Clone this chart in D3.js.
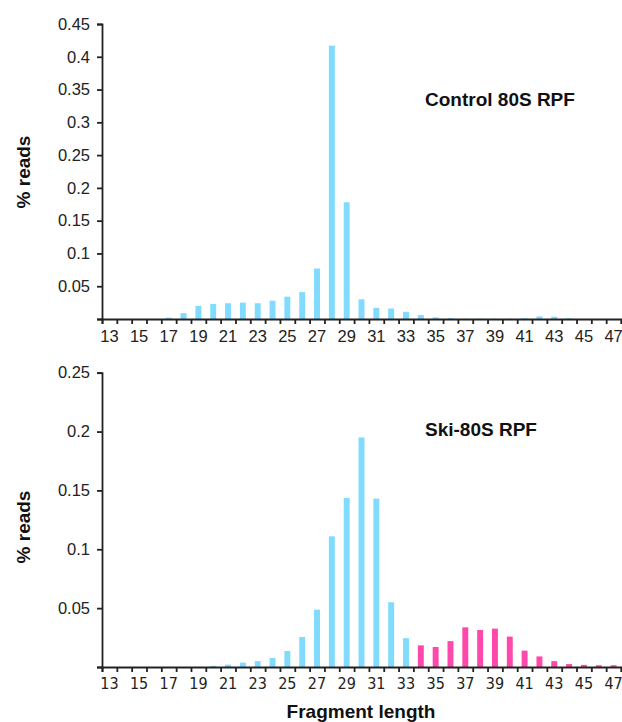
<!DOCTYPE html>
<html>
<head>
<meta charset="utf-8">
<script src="https://cdn.jsdelivr.net/npm/d3@7"></script>
<style>
  body { margin: 0; background: #fff; }
  svg { display: block; }
</style>
</head>
<body>
<div id="chart"></div>
<script>
// fragment lengths (categories)
var lengths = [13, 14, 15, 16, 17, 18, 19, 20, 21, 22, 23, 24, 25, 26, 27, 28, 29, 30,
               31, 32, 33, 34, 35, 36, 37, 38, 39, 40, 41, 42, 43, 44, 45, 46, 47];

// % reads, control 80S RPF
var control = [0, 0, 0, 0, 0.002, 0.009, 0.020, 0.023, 0.024, 0.025, 0.024, 0.028,
               0.034, 0.041, 0.077, 0.417, 0.178, 0.030, 0.017, 0.016, 0.011, 0.006,
               0.0025, 0.0012, 0.0005, 0.0005, 0.0004, 0.0004, 0.001, 0.004, 0.0035,
               0.001, 0, 0, 0];

// % reads, Ski-80S RPF
var ski = [0, 0, 0, 0, 0, 0, 0, 0.001, 0.002, 0.0037, 0.005, 0.0077, 0.0136, 0.0255,
           0.0487, 0.111, 0.1436, 0.195, 0.143, 0.055, 0.0245, 0.0184, 0.017, 0.022,
           0.0337, 0.0314, 0.0326, 0.0258, 0.0139, 0.009, 0.005, 0.0025, 0.0018,
           0.0015, 0.0015];

var labelLengths = [13, 15, 17, 19, 21, 23, 25, 27, 29, 31, 33, 35, 37, 39, 41, 43, 45, 47];
var topTicks = [0, 0.05, 0.1, 0.15, 0.2, 0.25, 0.3, 0.35, 0.4, 0.45];
var bottomTicks = [0, 0.05, 0.1, 0.15, 0.2, 0.25];
var skiLongFrom = 34;   // longer fragments drawn in pink

var blue = "#80dbff";
var pink = "#ff48ab";

var svg = d3.select("#chart").append("svg")
    .attr("width", 622)
    .attr("height", 722);

var left = 102, right = 621;

var x = d3.scaleBand()
    .domain(lengths)
    .range([left, right])
    .paddingInner(0.6)
    .paddingOuter(0.3);

// boundaries between categories for the tick marks
var xb = d3.scaleLinear()
    .domain([lengths[0] - 0.5, lengths[lengths.length - 1] + 0.5])
    .range([left, right]);

function fmt(d) {
  if (d === 0) return "";
  return String(+d.toFixed(2));
}

function panel(opts) {
  var y = d3.scaleLinear().domain([0, opts.max]).range([opts.base, opts.top]);
  var g = svg.append("g");

  g.selectAll("rect.bar")
    .data(opts.values)
    .enter()
    .append("rect")
      .attr("class", "bar")
      .attr("x", function(d, i) { return x(lengths[i]); })
      .attr("width", x.bandwidth())
      .attr("y", function(d) { return y(d); })
      .attr("height", function(d) { return opts.base - y(d); })
      .attr("fill", function(d, i) { return opts.color(lengths[i]); });

  // y axis
  var ya = g.append("g")
      .attr("transform", "translate(" + left + ",0)")
      .call(d3.axisLeft(y).tickValues(opts.ticks).tickSize(5).tickPadding(7).tickFormat(fmt));
  ya.selectAll("text")
      .attr("font-family", "Liberation Sans, Arial, sans-serif")
      .attr("font-size", 16.5)
      .attr("fill", "#222");

  // x axis: tick marks at boundaries
  g.append("g")
      .attr("transform", "translate(0," + opts.base + ")")
      .call(d3.axisBottom(xb)
        .tickValues(lengths.map(function(d) { return d - 0.5; }).concat([lengths[lengths.length - 1] + 0.5]))
        .tickSize(5)
        .tickFormat(""));

  // x labels at category centres
  var xl = g.append("g")
      .attr("transform", "translate(0," + opts.base + ")")
      .call(d3.axisBottom(x).tickValues(labelLengths).tickSize(0).tickPadding(opts.labelPad));
  xl.select(".domain").remove();
  xl.selectAll("text")
      .attr("font-family", opts.labelFont)
      .attr("font-size", opts.labelSize)
      .attr("fill", "#222");

  g.selectAll(".domain, .tick line")
      .attr("stroke", "#222")
      .attr("stroke-width", 1.8);

  g.append("text")
      .attr("transform", "translate(30," + opts.titleY + ") rotate(-90)")
      .attr("text-anchor", "middle")
      .attr("font-family", "Liberation Sans, Arial, sans-serif")
      .attr("font-weight", "bold")
      .attr("font-size", 19)
      .attr("fill", "#111")
      .text("% reads");

  g.append("text")
      .attr("x", 425)
      .attr("y", opts.nameY)
      .attr("font-family", "Liberation Sans, Arial, sans-serif")
      .attr("font-weight", "bold")
      .attr("font-size", 19)
      .attr("fill", "#111")
      .text(opts.name);
}

panel({
  values: control, max: 0.45, ticks: topTicks,
  top: 24, base: 319,
  color: function() { return blue; },
  labelFont: "Liberation Sans, Arial, sans-serif", labelSize: 16.5, labelPad: 11,
  titleY: 172, name: "Control 80S RPF", nameY: 106
});

panel({
  values: ski, max: 0.25, ticks: bottomTicks,
  top: 372.7, base: 667,
  color: function(l) { return l >= skiLongFrom ? pink : blue; },
  labelFont: "Liberation Sans Narrow, DejaVu Sans Condensed, sans-serif", labelSize: 16, labelPad: 11,
  titleY: 527, name: "Ski-80S RPF", nameY: 436
});

svg.append("text")
    .attr("x", 361)
    .attr("y", 718)
    .attr("text-anchor", "middle")
    .attr("font-family", "Liberation Sans, Arial, sans-serif")
    .attr("font-weight", "bold")
    .attr("font-size", 19)
    .attr("fill", "#111")
    .text("Fragment length");
</script>
</body>
</html>
